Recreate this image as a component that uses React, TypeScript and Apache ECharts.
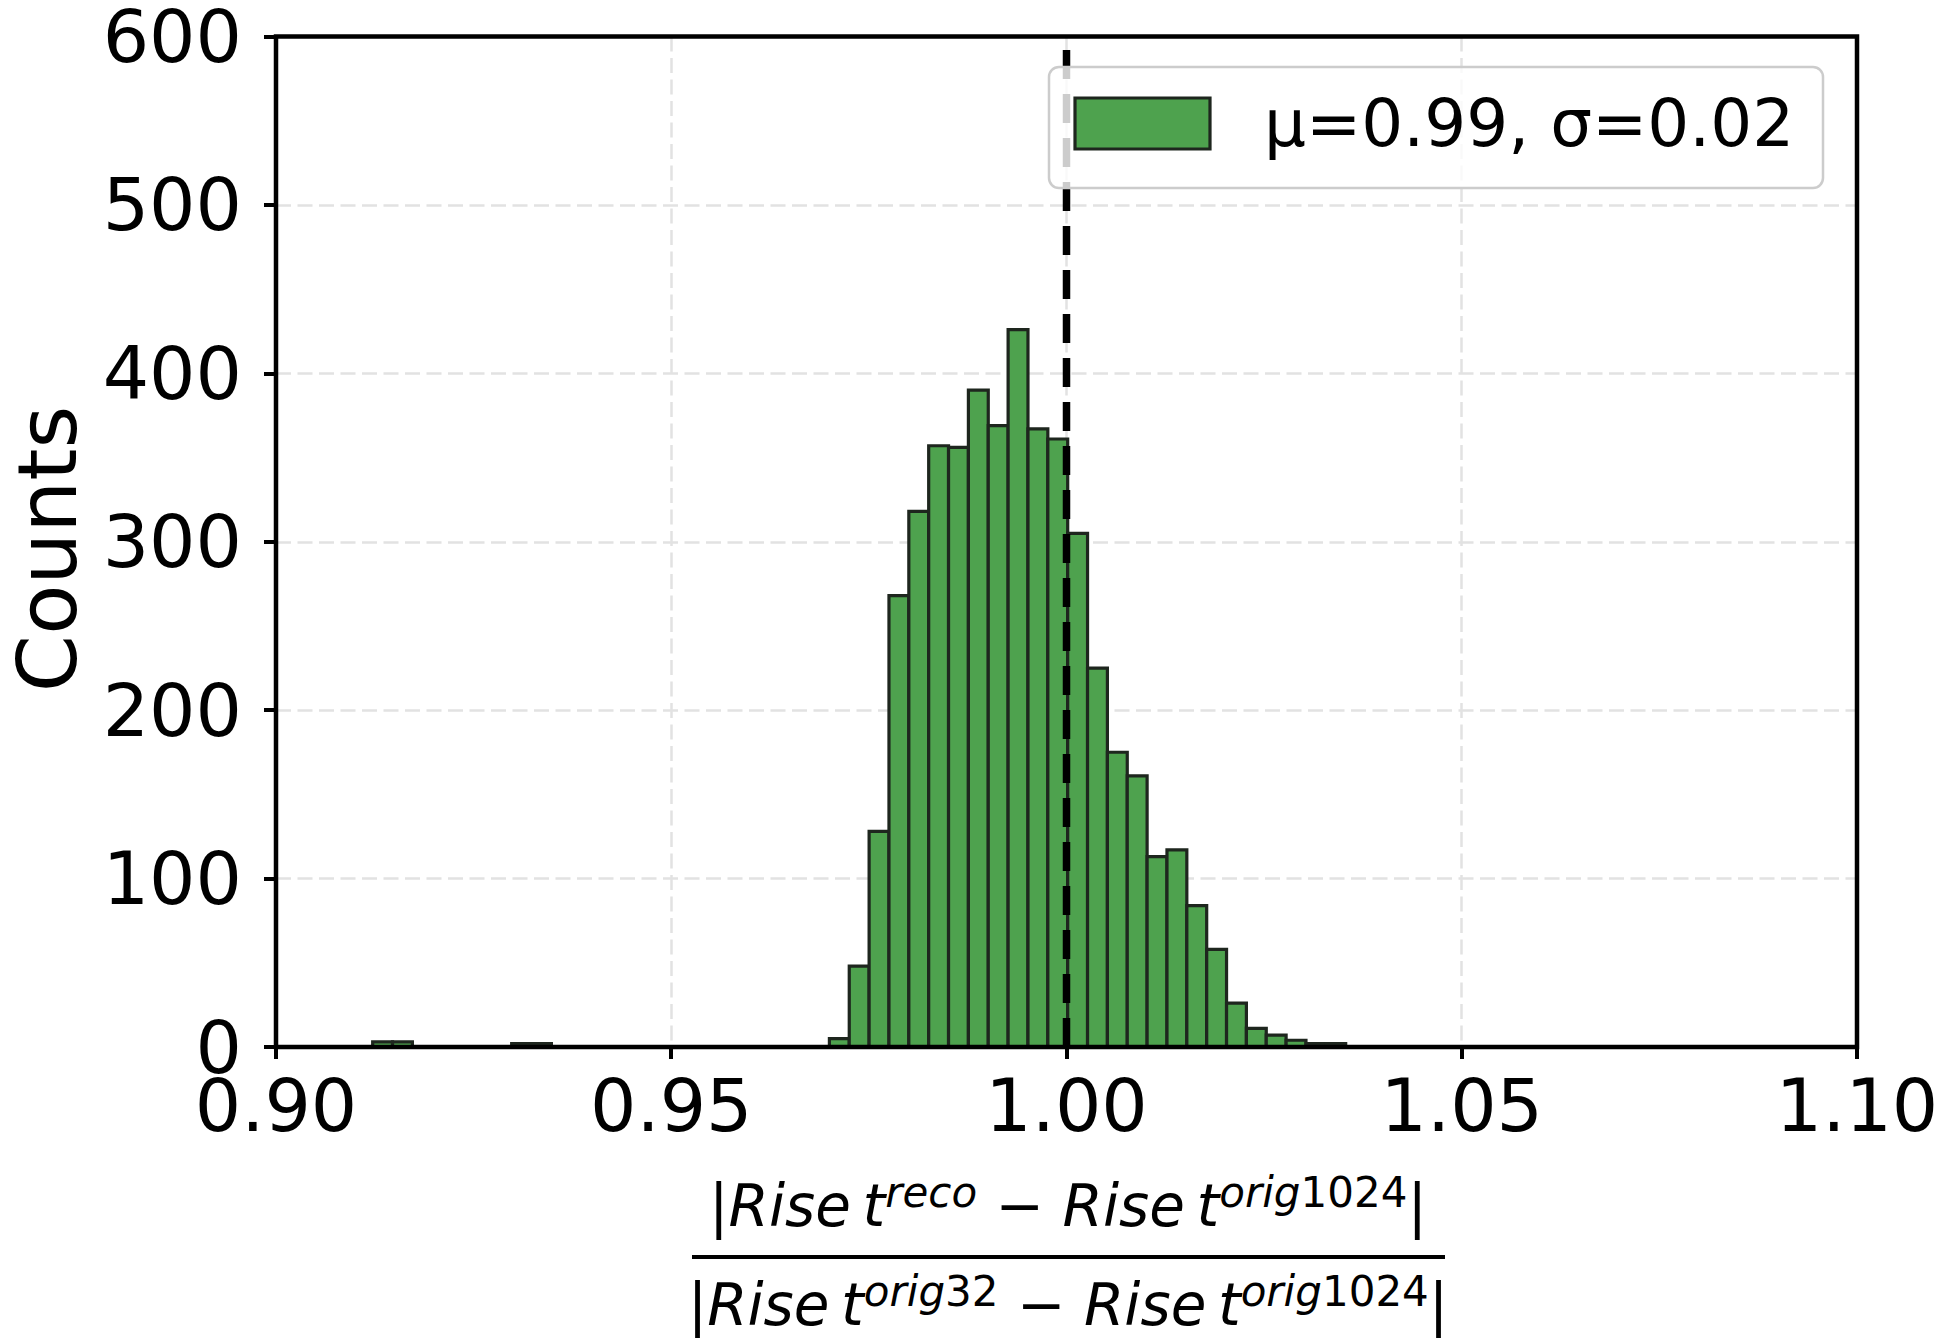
import React, { useEffect, useRef } from "react";
import * as echarts from "echarts";

// ---- data ----
const binStart = 0.91223; // left edge of first histogram bin
const binWidth = 0.002512; // histogram bin width
const counts = [
  3, 3, 0, 0, 0, 0, 0, 2, 2, 0, 0, 0, 0, 0, 0, 0, 0, 0, 0, 0, 0, 0, 0,
  5, 48, 128, 268, 318, 357, 356, 390, 369, 426, 367, 361, 305, 225, 175, 161,
  113, 117, 84, 58, 26, 11, 7, 4, 2, 2,
];
const xRange = [0.9, 1.1];
const xStep = 0.05;
const yRange = [0, 600];
const yStep = 100;
const refLineX = 1.0;
const legendLabel = "μ=0.99, σ=0.02";
const yAxisTitle = "Counts";

const FONT = "'DejaVu Sans', sans-serif";
const barFill = "#4ea24e";
const barEdge = "#1e261e";

export default function App() {
  const ref = useRef<HTMLDivElement>(null);

  useEffect(() => {
    if (!ref.current) return;
    const chart = echarts.init(ref.current, undefined, { renderer: "svg" });

    const histData = counts.map((c, i) => [
      binStart + i * binWidth,
      binStart + (i + 1) * binWidth,
      c,
    ]);

    const mainStyle = { fontSize: 58, fontFamily: FONT, fill: "#000", lineHeight: 70, color: "#000" };
    const supStyle = { fontSize: 42, fontFamily: FONT, lineHeight: 34, verticalAlign: "top", fill: "#000", color: "#000" };
    const rich = {
      b: { ...mainStyle, fontStyle: "normal" },
      i: { ...mainStyle, fontStyle: "italic" },
      m: { ...mainStyle, fontStyle: "normal" },
      s: { ...supStyle, fontStyle: "italic" },
      d: { ...supStyle, fontStyle: "normal" },
    };
    const numerator = "{b||}{i|Rise\u2009t}{s|reco}{m| − }{i|Rise\u2009t}{s|orig}{d|1024}{b||}";
    const denominator = "{b||}{i|Rise\u2009t}{s|orig}{d|32}{m| − }{i|Rise\u2009t}{s|orig}{d|1024}{b||}";

    const option: any = {
      animation: false,
      backgroundColor: "#ffffff",
      textStyle: { fontFamily: FONT },
      grid: {
        left: 276,
        top: 34,
        width: 1581,
        height: 1013,
        show: true,
        z: 10,
        borderColor: "#000",
        borderWidth: 4.5,
        backgroundColor: "transparent",
      },
      xAxis: {
        type: "value",
        min: xRange[0],
        max: xRange[1],
        interval: xStep,
        axisLine: { show: false },
        axisTick: { show: true, length: 12, lineStyle: { color: "#000", width: 4 } },
        axisLabel: {
          show: true,
          showMinLabel: true,
          showMaxLabel: true,
          margin: 22,
          fontSize: 73,
          color: "#000",
          fontFamily: FONT,
          formatter: (v: number) => v.toFixed(2),
        },
        splitLine: { show: true, lineStyle: { color: "#e2e2e2", width: 2.5, type: [15, 6.5] } },
      },
      yAxis: {
        type: "value",
        min: yRange[0],
        max: yRange[1],
        interval: yStep,
        axisLine: { show: false },
        axisTick: { show: true, length: 12, lineStyle: { color: "#000", width: 4 } },
        axisLabel: {
          show: true,
          showMinLabel: true,
          showMaxLabel: true,
          margin: 34,
          fontSize: 73,
          color: "#000",
          fontFamily: FONT,
        },
        splitLine: { show: true, lineStyle: { color: "#e2e2e2", width: 2.5, type: [15, 6.5] } },
      },
      series: [
        {
          type: "custom",
          z: 2,
          silent: true,
          data: histData,
          encode: { x: [0, 1], y: 2 },
          renderItem: (params: any, api: any) => {
            const c = api.value(2);
            if (!c) return null;
            const p0 = api.coord([api.value(0), 0]);
            const p1 = api.coord([api.value(1), c]);
            return {
              type: "rect",
              shape: { x: p0[0], y: p1[1], width: p1[0] - p0[0], height: p0[1] - p1[1] },
              style: { fill: barFill, stroke: barEdge, lineWidth: 3.2 },
            };
          },
        },
        {
          type: "line",
          z: 3,
          silent: true,
          symbol: "none",
          data: [
            [refLineX, yRange[0]],
            [refLineX, yRange[1]],
          ],
          lineStyle: { color: "#000", width: 7.5, type: [29, 15] },
        },
      ],
      graphic: [
        {
          type: "rect",
          z: 100,
          shape: { x: 1049, y: 67, width: 774, height: 121, r: 10 },
          style: { fill: "rgba(255,255,255,0.8)", stroke: "#cccccc", lineWidth: 2.5 },
        },
        {
          type: "rect",
          z: 101,
          shape: { x: 1075, y: 98, width: 135, height: 51 },
          style: { fill: barFill, stroke: barEdge, lineWidth: 3.2 },
        },
        {
          type: "text",
          z: 101,
          x: 1264,
          y: 123.5,
          style: {
            text: legendLabel,
            fontSize: 66,
            fontFamily: FONT,
            fill: "#000",
            align: "left",
            verticalAlign: "middle",
            textAlign: "left",
            textVerticalAlign: "middle",
          },
        },
        {
          type: "text",
          z: 50,
          x: 47,
          y: 549,
          rotation: Math.PI / 2,
          style: {
            text: yAxisTitle,
            fontSize: 82,
            fontFamily: FONT,
            fill: "#000",
            align: "center",
            verticalAlign: "middle",
            textAlign: "center",
            textVerticalAlign: "middle",
          },
        },
        {
          type: "text",
          z: 50,
          x: 1068,
          y: 1206,
          style: {
            text: numerator,
            rich,
            fontSize: 58,
            fontFamily: FONT,
            fill: "#000",
            align: "center",
            verticalAlign: "middle",
            textAlign: "center",
            textVerticalAlign: "middle",
          },
        },
        {
          type: "line",
          z: 50,
          shape: { x1: 692, y1: 1257, x2: 1445, y2: 1257 },
          style: { stroke: "#000", lineWidth: 4 },
        },
        {
          type: "text",
          z: 50,
          x: 1068,
          y: 1305,
          style: {
            text: denominator,
            rich,
            fontSize: 58,
            fontFamily: FONT,
            fill: "#000",
            align: "center",
            verticalAlign: "middle",
            textAlign: "center",
            textVerticalAlign: "middle",
          },
        },
      ],
    };

    chart.setOption(option);
    return () => {
      chart.dispose();
    };
  }, []);

  return (
    <div
      ref={ref}
      style={{ position: "absolute", left: 0, top: 0, width: 1946, height: 1338, background: "#fff" }}
    />
  );
}
